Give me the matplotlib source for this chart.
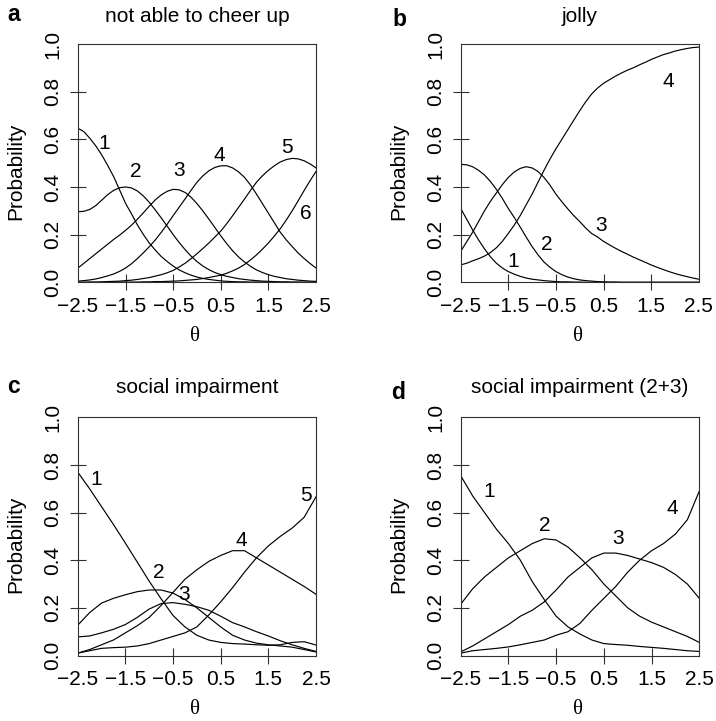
import matplotlib
matplotlib.use("Agg")
import matplotlib.pyplot as plt

plt.rcParams['font.family'] = ['Liberation Sans', 'DejaVu Sans']

# theta grid for the smooth model curves (panels a, b)
theta_f = [-2.5, -2.375, -2.25, -2.125, -2.0, -1.875, -1.75, -1.625, -1.5, -1.375,
           -1.25, -1.125, -1.0, -0.875, -0.75, -0.625, -0.5, -0.375, -0.25, -0.125,
           0.0, 0.125, 0.25, 0.375, 0.5, 0.625, 0.75, 0.875, 1.0, 1.125,
           1.25, 1.375, 1.5, 1.625, 1.75, 1.875, 2.0, 2.125, 2.25, 2.375, 2.5]
# theta grid for the empirical curves (panels c, d)
theta = [-2.5, -2.25, -2.0, -1.75, -1.5, -1.25, -1.0, -0.75, -0.5, -0.25, 0.0,
         0.25, 0.5, 0.75, 1.0, 1.25, 1.5, 1.75, 2.0, 2.25, 2.5]

# Panel a: not able to cheer up
a1 = [0.646, 0.632, 0.604, 0.572, 0.534, 0.49, 0.443, 0.387, 0.331, 0.287,
      0.24, 0.20, 0.164, 0.135, 0.108, 0.087, 0.068, 0.052, 0.04, 0.03,
      0.022, 0.016, 0.012, 0.009, 0.006, 0.004, 0.003, 0.002, 0.002, 0.001,
      0.001, 0.001, 0.0, 0.0, 0.0, 0.0, 0.0, 0.0, 0.0, 0.0, 0.0]
a2 = [0.296, 0.298, 0.306, 0.322, 0.345, 0.368, 0.386, 0.397, 0.40, 0.396,
      0.383, 0.362, 0.335, 0.303, 0.27, 0.235, 0.20, 0.167, 0.137, 0.11,
      0.087, 0.068, 0.053, 0.041, 0.032, 0.025, 0.02, 0.015, 0.012, 0.009,
      0.007, 0.005, 0.004, 0.003, 0.002, 0.002, 0.001, 0.001, 0.0, 0.0, 0.0]
a3 = [0.06, 0.08, 0.10, 0.12, 0.14, 0.16, 0.18, 0.198, 0.218, 0.24,
      0.265, 0.292, 0.32, 0.346, 0.367, 0.382, 0.39, 0.388, 0.377, 0.357,
      0.33, 0.299, 0.265, 0.23, 0.195, 0.162, 0.132, 0.106, 0.085, 0.067,
      0.052, 0.041, 0.032, 0.025, 0.02, 0.015, 0.012, 0.009, 0.007, 0.005, 0.004]
a4 = [0.005, 0.007, 0.01, 0.014, 0.02, 0.027, 0.035, 0.046, 0.06, 0.078,
      0.10, 0.124, 0.15, 0.178, 0.21, 0.244, 0.28, 0.315, 0.35, 0.386,
      0.42, 0.447, 0.468, 0.482, 0.489, 0.489, 0.48, 0.463, 0.44, 0.408,
      0.37, 0.33, 0.29, 0.25, 0.21, 0.178, 0.15, 0.123, 0.10, 0.079, 0.06]
a5 = [0.0, 0.0, 0.001, 0.001, 0.002, 0.003, 0.004, 0.005, 0.007, 0.009,
      0.012, 0.016, 0.02, 0.026, 0.032, 0.04, 0.05, 0.064, 0.08, 0.099,
      0.12, 0.142, 0.165, 0.19, 0.215, 0.246, 0.28, 0.315, 0.35, 0.386,
      0.42, 0.447, 0.47, 0.489, 0.505, 0.515, 0.52, 0.518, 0.51, 0.497, 0.48]
a6 = [0.0, 0.0, 0.0, 0.0, 0.0, 0.0, 0.0, 0.001, 0.001, 0.001,
      0.001, 0.002, 0.002, 0.003, 0.003, 0.004, 0.005, 0.006, 0.008, 0.01,
      0.012, 0.016, 0.02, 0.025, 0.03, 0.038, 0.048, 0.06, 0.075, 0.094,
      0.115, 0.139, 0.165, 0.194, 0.225, 0.261, 0.30, 0.342, 0.385, 0.426, 0.465]

# Panel b: jolly
b1 = [0.31, 0.265, 0.22, 0.178, 0.14, 0.107, 0.08, 0.06, 0.045, 0.034,
      0.025, 0.018, 0.013, 0.01, 0.007, 0.005, 0.003, 0.002, 0.002, 0.001,
      0.001, 0.0, 0.0, 0.0, 0.0, 0.0, 0.0, 0.0, 0.0, 0.0,
      0.0, 0.0, 0.0, 0.0, 0.0, 0.0, 0.0, 0.0, 0.0, 0.0, 0.0]
b2 = [0.495, 0.493, 0.485, 0.47, 0.45, 0.423, 0.39, 0.352, 0.31, 0.272,
      0.232, 0.19, 0.15, 0.115, 0.085, 0.063, 0.045, 0.032, 0.022, 0.015,
      0.01, 0.007, 0.005, 0.003, 0.002, 0.001, 0.001, 0.0, 0.0, 0.0,
      0.0, 0.0, 0.0, 0.0, 0.0, 0.0, 0.0, 0.0, 0.0, 0.0, 0.0]
b3 = [0.13, 0.17, 0.21, 0.255, 0.30, 0.34, 0.375, 0.41, 0.44, 0.463,
      0.478, 0.485, 0.48, 0.465, 0.44, 0.408, 0.37, 0.338, 0.308, 0.28,
      0.255, 0.228, 0.205, 0.19, 0.172, 0.157, 0.143, 0.13, 0.118, 0.106,
      0.095, 0.084, 0.073, 0.063, 0.054, 0.045, 0.037, 0.03, 0.024, 0.018, 0.013]
b4 = [0.073, 0.08, 0.09, 0.099, 0.11, 0.125, 0.145, 0.172, 0.205, 0.24,
      0.28, 0.325, 0.37, 0.42, 0.47, 0.517, 0.56, 0.60, 0.64, 0.68,
      0.72, 0.757, 0.79, 0.815, 0.835, 0.85, 0.865, 0.878, 0.89, 0.90,
      0.912, 0.923, 0.935, 0.945, 0.955, 0.962, 0.97, 0.976, 0.981, 0.985, 0.987]

# Panel c: social impairment
c1 = [0.77, 0.70, 0.625, 0.55, 0.472, 0.392, 0.312, 0.238, 0.168, 0.12, 0.085, 0.065, 0.055, 0.05, 0.048, 0.045, 0.043, 0.045, 0.055, 0.058, 0.044]
c2 = [0.127, 0.18, 0.22, 0.24, 0.255, 0.268, 0.275, 0.275, 0.262, 0.235, 0.20, 0.16, 0.12, 0.085, 0.065, 0.052, 0.045, 0.04, 0.035, 0.025, 0.015]
c3 = [0.078, 0.082, 0.095, 0.11, 0.13, 0.16, 0.195, 0.218, 0.222, 0.215, 0.205, 0.19, 0.165, 0.138, 0.12, 0.10, 0.082, 0.062, 0.045, 0.03, 0.017]
c4 = [0.01, 0.025, 0.045, 0.065, 0.095, 0.125, 0.16, 0.21, 0.265, 0.32, 0.36, 0.395, 0.42, 0.44, 0.44, 0.41, 0.38, 0.35, 0.32, 0.29, 0.257]
c5 = [0.01, 0.02, 0.03, 0.033, 0.035, 0.04, 0.05, 0.065, 0.08, 0.095, 0.12, 0.17, 0.225, 0.285, 0.35, 0.41, 0.46, 0.50, 0.535, 0.58, 0.666]

# Panel d: social impairment (2+3)
d1 = [0.755, 0.67, 0.60, 0.53, 0.47, 0.40, 0.31, 0.235, 0.165, 0.12, 0.09, 0.065, 0.05, 0.046, 0.043, 0.038, 0.034, 0.03, 0.025, 0.02, 0.017]
d2 = [0.215, 0.28, 0.33, 0.37, 0.41, 0.44, 0.47, 0.49, 0.485, 0.455, 0.41, 0.36, 0.30, 0.25, 0.20, 0.165, 0.14, 0.12, 0.10, 0.08, 0.055]
d3 = [0.015, 0.04, 0.07, 0.10, 0.13, 0.165, 0.19, 0.225, 0.275, 0.33, 0.37, 0.41, 0.43, 0.43, 0.42, 0.405, 0.39, 0.37, 0.34, 0.30, 0.24]
d4 = [0.01, 0.02, 0.025, 0.03, 0.036, 0.045, 0.055, 0.065, 0.085, 0.10, 0.135, 0.19, 0.24, 0.29, 0.35, 0.40, 0.44, 0.47, 0.51, 0.57, 0.69]

titles = ["not able to cheer up", "jolly", "social impairment", "social impairment (2+3)"]
letters = ["a", "b", "c", "d"]
xgrids = [theta_f, theta_f, theta, theta]
series = [[a1, a2, a3, a4, a5, a6], [b1, b2, b3, b4], [c1, c2, c3, c4, c5], [d1, d2, d3, d4]]
# curve-number label positions (theta, probability)
label_pos = [
    [(-1.94, 0.583), (-1.29, 0.464), (-0.38, 0.471), (0.47, 0.534), (1.89, 0.566), (2.29, 0.29)],
    [(-1.40, 0.087), (-0.70, 0.157), (0.45, 0.24), (1.86, 0.842)],
    [(-2.12, 0.74), (-0.80, 0.348), (-0.26, 0.257), (0.93, 0.484), (2.28, 0.67)],
    [(-1.91, 0.69), (-0.73, 0.544), (0.80, 0.492), (1.93, 0.617)],
]

xticks = [-2.5, -1.5, -0.5, 0.5, 1.5, 2.5]
xticklabels = ["\u22122.5", "\u22121.5", "\u22120.5", "0.5", "1.5", "2.5"]
yticks = [0.0, 0.2, 0.4, 0.6, 0.8, 1.0]
yticklabels = ["0.0", "0.2", "0.4", "0.6", "0.8", "1.0"]

W, H = 716, 721
fig = plt.figure(figsize=(W / 100, H / 100), dpi=100)

# axes boxes in pixels: (left, top, right, bottom)
boxes = [(78, 44, 316, 282.3), (460.7, 44, 698.7, 282.3),
         (77.7, 417.3, 316, 655.5), (460.7, 417.3, 699.3, 655.5)]
letter_pos = [(7, 21), (392, 26), (7, 393), (391, 399)]

frame_col = "#303030"
fs = 15

for i, (l, t, r, b) in enumerate(boxes):
    ax = fig.add_axes([l / W, 1 - b / H, (r - l) / W, (b - t) / H])
    for y in series[i]:
        ax.plot(xgrids[i], y, color="black", lw=0.85)
    for k, (lx, ly) in enumerate(label_pos[i]):
        ax.text(lx, ly, str(k + 1), ha="center", va="center", fontsize=fs)
    ax.set_xlim(-2.5, 2.5)
    ax.set_ylim(0, 1)
    ax.set_xticks(xticks)
    ax.set_xticklabels(xticklabels)
    ax.set_yticks(yticks)
    ax.set_yticklabels(yticklabels, rotation=90, va="center")
    ax.tick_params(direction="inout", length=11.5, width=0.8, color=frame_col,
                   labelsize=fs)
    ax.tick_params(axis="x", pad=5.0)
    ax.tick_params(axis="y", pad=5.5)
    for tk in (ax.xaxis.get_major_ticks()[0], ax.xaxis.get_major_ticks()[-1],
               ax.yaxis.get_major_ticks()[0], ax.yaxis.get_major_ticks()[-1]):
        tk.tick1line.set_visible(False)
    for sp in ax.spines.values():
        sp.set_color(frame_col)
        sp.set_linewidth(0.8)
    # title
    ax.annotate(titles[i], xy=(0.5, 1.0), xycoords="axes fraction",
                xytext=(0, 22.5 if i < 2 else 24), textcoords="offset pixels",
                ha="center", va="baseline", fontsize=fs)
    # y label
    ax.annotate("Probability", xy=(0.0, 0.5), xycoords="axes fraction",
                xytext=(-62, -8), textcoords="offset pixels",
                ha="center", va="center", rotation=90, fontsize=fs)
    # x label
    ax.annotate("\u03b8", xy=(0.5, 0.0), xycoords="axes fraction",
                xytext=(-2, -59), textcoords="offset pixels",
                ha="center", va="baseline", fontsize=fs,
                family=["Liberation Serif", "DejaVu Serif"])
    lx, ly = letter_pos[i]
    fig.text(lx / W, 1 - ly / H, letters[i], ha="left", va="baseline",
             fontsize=16.5, fontweight="bold")

fig.savefig("out.png", dpi=100)
